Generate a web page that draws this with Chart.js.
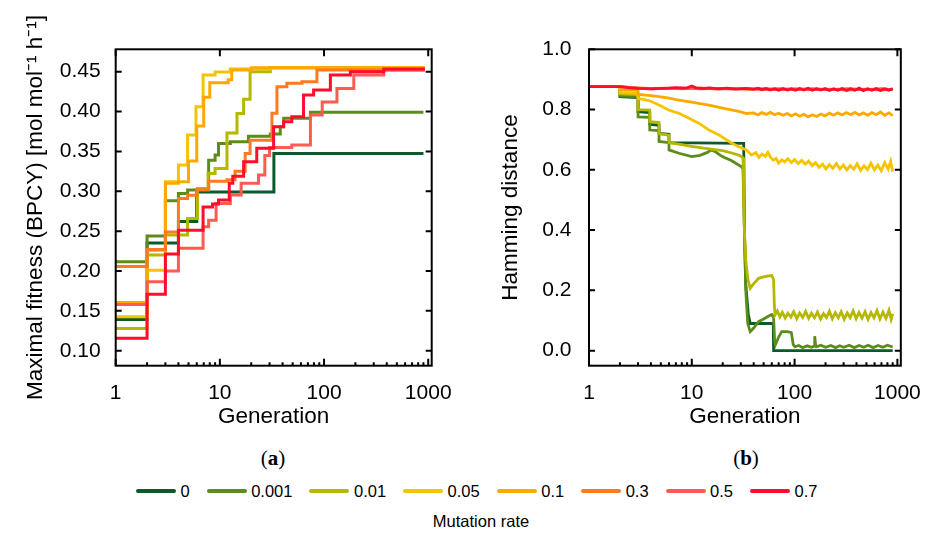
<!DOCTYPE html>
<html lang="en">
<head>
<meta charset="UTF-8">
<title>Fitness and Hamming distance</title>
<script src="https://cdn.jsdelivr.net/npm/chart.js"></script>
<style>
  body { margin: 0; background: #fff; }
  #wrap { position: relative; width: 928px; height: 539px; background: #fff; font-family: "Liberation Sans", Arial, sans-serif; }
  canvas { position: absolute; top: 0; }
  .panel { position: absolute; top: 446px; transform: translateX(-50%); font-family: "Liberation Serif", "DejaVu Serif", serif; font-size: 21px; color: #000; }
  #legend { position: absolute; left: 136px; top: 481px; height: 20px; display: flex; align-items: center; font-size: 16.5px; color: #000; }
  #legend .item { display: flex; align-items: center; margin-right: 17px; }
  #legend .swatch { width: 40px; height: 4px; border-radius: 2px; margin-right: 4.5px; }
  #legendTitle { position: absolute; left: 481px; top: 512px; transform: translateX(-50%); font-size: 16.5px; color: #000; }
</style>
</head>
<body>
<div id="wrap">
  <canvas id="fitChart" width="464" height="440" style="left:0"></canvas>
  <canvas id="hamChart" width="464" height="440" style="left:464px"></canvas>
  <div class="panel" style="left:273px">(<b>a</b>)</div>
  <div class="panel" style="left:746px">(<b>b</b>)</div>
  <div id="legend"></div>
  <div id="legendTitle">Mutation rate</div>
</div>

<script>
  // mutation rates (legend) and their colours
  const rates = ['0', '0.001', '0.01', '0.05', '0.1', '0.3', '0.5', '0.7'];
  const colors = ['#0b5a2a', '#5b8c1c', '#b4b800', '#f5c400', '#ffa800', '#fc7b20', '#ff5b52', '#ff0d2d'];

  const xTicks = [1, 10, 100, 1000];
  const fitTicks = [0.10, 0.15, 0.20, 0.25, 0.30, 0.35, 0.40, 0.45];
  const hamTicks = [0.0, 0.2, 0.4, 0.6, 0.8, 1.0];

  // (a) maximal fitness, [generation, value], stepped
  const fit0 = [[1, 0.139], [2, 0.235], [4, 0.262], [6, 0.299], [33, 0.3475], [900, 0.3475]];
  const fit001 = [[1, 0.2116], [2, 0.2438], [3, 0.288], [4, 0.2973], [4.9, 0.3015], [7.8, 0.339], [9, 0.3455], [9.7, 0.36],
    [12.6, 0.362], [18.8, 0.369], [30.5, 0.372], [38, 0.381], [41, 0.3915], [74, 0.399], [900, 0.399]];
  const fit01 = [[1, 0.128], [2, 0.22], [3, 0.245], [4.9, 0.266], [6.1, 0.3036], [7.7, 0.3224], [9, 0.3287], [11.7, 0.373],
    [14.6, 0.3977], [16.9, 0.4153], [19.5, 0.45], [30.5, 0.455], [900, 0.456]];
  const fit05 = [[1, 0.1426], [2, 0.201], [3, 0.312], [4, 0.333], [4.9, 0.3705], [5.9, 0.406], [6.9, 0.446], [9, 0.4495],
    [12.6, 0.4535], [30, 0.455], [900, 0.456]];
  const fit1 = [[1, 0.1606], [2, 0.226], [3, 0.31], [4, 0.312], [5, 0.338], [6, 0.382], [7, 0.418], [8, 0.436], [12, 0.44],
    [13, 0.452], [20, 0.455], [900, 0.457]];
  const fit3 = [[1, 0.2055], [2, 0.227], [3, 0.249], [4, 0.291], [4.9, 0.295], [6, 0.302], [7.8, 0.3125], [11.7, 0.3145],
    [14, 0.325], [17.5, 0.3475], [19.5, 0.364], [31.6, 0.398], [35.3, 0.431], [44, 0.4354], [61.4, 0.4375], [85.4, 0.452], [900, 0.456]];
  const fit5 = [[1, 0.158], [2, 0.1865], [3, 0.2], [4, 0.2285], [6.9, 0.2555], [7.8, 0.2636], [9.2, 0.2848], [12.6, 0.2954],
    [16, 0.31], [23.5, 0.3203], [27, 0.345], [30, 0.355], [49, 0.358], [74, 0.3956], [96, 0.412], [133, 0.429], [193, 0.446],
    [374, 0.452], [900, 0.454]];
  const fit7 = [[1, 0.1156], [2, 0.1708], [3, 0.2213], [4, 0.251], [6.9, 0.2804], [8.5, 0.284], [9.7, 0.289], [12.3, 0.31],
    [13.3, 0.319], [16.9, 0.337], [22.6, 0.354], [32.8, 0.381], [40.9, 0.3873], [49, 0.3935], [63.5, 0.4207], [79.4, 0.427],
    [115, 0.446], [179, 0.45], [374, 0.4535], [900, 0.455]];

  // (b) Hamming distance, [generation, value]
  const ham0 = [[1, 0.876], [2, 0.876], [2, 0.843], [3, 0.840], [3, 0.793], [3.9, 0.790], [3.9, 0.751], [4.8, 0.748], [4.8, 0.721],
    [6, 0.718], [6, 0.690], [32, 0.688], [32.5, 0.40], [33.5, 0.22], [35.5, 0.12], [37, 0.09], [62, 0.09], [62.5, 0.0], [900, 0.0]];
  const ham001 = [[1, 0.876], [2, 0.876], [2, 0.845], [3, 0.843], [3, 0.776], [3.9, 0.774], [3.9, 0.732], [4.8, 0.730], [4.8, 0.694],
    [6, 0.690], [6, 0.666], [7.5, 0.655], [10, 0.644], [12, 0.648], [14, 0.657], [15.5, 0.666], [17, 0.66], [19, 0.648], [21, 0.640],
    [24, 0.632], [27, 0.621], [30, 0.612], [31.5, 0.603], [32.5, 0.40], [33.5, 0.20], [35, 0.09], [37, 0.063], [40, 0.075],
    [44.6, 0.096], [50, 0.105], [56, 0.115], [60, 0.12], [62.5, 0.11], [64, 0.03], [65, 0.019], [70, 0.045], [75, 0.063], [85, 0.063],
    [93, 0.06], [97, 0.02], [100.6, 0.013], [110, 0.017], [120, 0.010], [133, 0.016], [146, 0.011], [155, 0.015], [157, 0.048],
    [160, 0.02], [163, 0.013], [180, 0.018], [200, 0.011], [225, 0.017], [250, 0.010], [275, 0.016], [300, 0.011], [340, 0.018],
    [380, 0.010], [425, 0.017], [470, 0.011], [520, 0.018], [580, 0.010], [650, 0.017], [720, 0.011], [800, 0.018], [900, 0.012]];
  const ham01 = [[1, 0.876], [2, 0.876], [2, 0.852], [3, 0.850], [3, 0.80], [3.9, 0.798], [3.9, 0.76], [4.8, 0.757], [4.8, 0.72],
    [6, 0.715], [6, 0.69], [8, 0.684], [10, 0.678], [13, 0.672], [16, 0.668], [20, 0.664], [25, 0.655], [29, 0.648], [31.5, 0.640],
    [32, 0.5], [32.5, 0.40], [33.5, 0.30], [35, 0.24], [37, 0.207], [40, 0.222], [44.6, 0.240], [50, 0.245], [56, 0.248], [60, 0.249],
    [62.5, 0.236], [63.5, 0.15], [64.5, 0.118], [68, 0.132], [72, 0.112], [76, 0.127], [81, 0.108], [86, 0.124], [92, 0.111],
    [98, 0.129], [105, 0.106], [112, 0.125], [120, 0.110], [128, 0.130], [137, 0.107], [146, 0.124], [156, 0.109], [167, 0.128],
    [179, 0.105], [191, 0.123], [204, 0.110], [218, 0.131], [233, 0.106], [249, 0.126], [266, 0.109], [284, 0.129], [304, 0.104],
    [325, 0.125], [347, 0.110], [371, 0.132], [397, 0.106], [424, 0.127], [453, 0.108], [485, 0.129], [518, 0.104], [554, 0.126],
    [592, 0.109], [633, 0.133], [677, 0.105], [724, 0.128], [774, 0.107], [828, 0.134], [870, 0.104], [900, 0.122]];
  const ham05 = [[1, 0.876], [2, 0.876], [2, 0.856], [3, 0.854], [3, 0.837], [3.9, 0.829], [4.8, 0.815], [6, 0.798], [7.6, 0.787],
    [9.4, 0.771], [11.8, 0.754], [14.7, 0.732], [18.4, 0.716], [23, 0.694], [28.5, 0.677], [34, 0.666], [38, 0.649], [42, 0.657],
    [45, 0.641], [48, 0.652], [52, 0.645], [55, 0.658], [58, 0.643], [62, 0.632], [66, 0.638], [70, 0.622], [75, 0.633], [80, 0.626],
    [86, 0.637], [93, 0.624], [100, 0.634], [108, 0.621], [117, 0.631], [127, 0.619], [137, 0.629], [148, 0.614], [160, 0.624],
    [173, 0.608], [187, 0.619], [202, 0.603], [218, 0.617], [236, 0.605], [255, 0.621], [276, 0.603], [298, 0.616], [322, 0.600],
    [348, 0.614], [376, 0.602], [406, 0.620], [439, 0.598], [474, 0.613], [512, 0.601], [553, 0.622], [597, 0.600], [645, 0.616],
    [697, 0.597], [753, 0.624], [813, 0.602], [860, 0.628], [900, 0.594]];
  const ham1 = [[1, 0.876], [2, 0.876], [2, 0.866], [3, 0.864], [3, 0.850], [4, 0.846], [5, 0.842], [6, 0.838], [7, 0.833], [8, 0.830],
    [10, 0.825], [12, 0.820], [14.7, 0.815], [18, 0.808], [21, 0.803], [25, 0.798], [30, 0.792], [34, 0.787], [40, 0.789], [44, 0.782],
    [48, 0.790], [53, 0.784], [58, 0.791], [64, 0.783], [70, 0.788], [77, 0.781], [85, 0.787], [93, 0.779], [102, 0.786], [112, 0.778],
    [123, 0.784], [135, 0.776], [149, 0.783], [164, 0.777], [180, 0.785], [198, 0.779], [218, 0.788], [240, 0.781], [264, 0.789],
    [290, 0.782], [319, 0.790], [351, 0.783], [386, 0.791], [425, 0.782], [467, 0.789], [514, 0.781], [565, 0.790], [622, 0.783],
    [684, 0.792], [752, 0.781], [828, 0.789], [900, 0.780]];
  const ham3 = [[1, 0.876], [2, 0.876], [3, 0.872], [4, 0.870], [6, 0.871], [8, 0.869], [12, 0.871], [18, 0.868], [25, 0.870],
    [35, 0.867], [50, 0.869], [70, 0.866], [100, 0.869], [150, 0.866], [220, 0.868], [330, 0.865], [500, 0.868], [700, 0.865], [900, 0.867]];
  const ham5 = [[1, 0.876], [2, 0.876], [3, 0.871], [4, 0.869], [6, 0.870], [8, 0.872], [12, 0.869], [18, 0.870], [25, 0.868],
    [35, 0.870], [50, 0.867], [70, 0.869], [100, 0.866], [150, 0.869], [220, 0.866], [330, 0.869], [500, 0.866], [700, 0.869], [900, 0.866]];
  const ham7 = [[1, 0.876], [2, 0.876], [2.5, 0.872], [3, 0.870], [4, 0.869], [5, 0.870], [6, 0.871], [7, 0.873], [8, 0.871],
    [9, 0.872], [10, 0.878], [11, 0.872], [13, 0.870], [15, 0.872], [18, 0.869], [22, 0.871], [27, 0.868], [33, 0.870], [40, 0.867],
    [44, 0.871], [48, 0.866], [53, 0.870], [58, 0.865], [64, 0.869], [70, 0.864], [77, 0.870], [85, 0.865], [93, 0.869], [102, 0.864],
    [112, 0.870], [123, 0.865], [135, 0.871], [149, 0.864], [164, 0.869], [180, 0.865], [198, 0.870], [218, 0.863], [240, 0.869],
    [264, 0.864], [290, 0.870], [319, 0.863], [351, 0.869], [386, 0.864], [425, 0.871], [467, 0.863], [514, 0.869], [565, 0.864],
    [622, 0.870], [684, 0.863], [752, 0.869], [828, 0.864], [900, 0.870]];

  const fitSeries = [fit0, fit001, fit01, fit05, fit1, fit3, fit5, fit7];
  const hamSeries = [ham0, ham001, ham01, ham05, ham1, ham3, ham5, ham7];

  const FONT = '"Liberation Sans", Arial, sans-serif';
  Chart.defaults.font.family = FONT;
  Chart.defaults.color = '#000';

  // frame and inward tick marks
  const frameTicks = {
    id: 'frameTicks',
    afterDraw(chart) {
      const { ctx, chartArea: a, scales: { x, y } } = chart;
      ctx.save();
      ctx.strokeStyle = '#000';
      ctx.lineWidth = 2;
      ctx.beginPath();
      for (let d = 1; d <= 1000; d *= 10) {
        for (let k = 1; k <= 9; k++) {
          const v = d * k;
          if (v > x.max) break;
          const px = x.getPixelForValue(v);
          const len = k === 1 ? 7 : 3.5;
          ctx.moveTo(px, a.bottom); ctx.lineTo(px, a.bottom - len);
          if (k === 1) { ctx.moveTo(px, a.top); ctx.lineTo(px, a.top + len); }
        }
      }
      y.ticks.forEach(t => {
        const py = y.getPixelForValue(t.value);
        ctx.moveTo(a.left, py); ctx.lineTo(a.left + 6, py);
        ctx.moveTo(a.right, py); ctx.lineTo(a.right - 6, py);
      });
      ctx.stroke();
      ctx.strokeRect(a.left, a.top, a.right - a.left, a.bottom - a.top);
      ctx.restore();
    }
  };

  function makeChart(id, series, yMin, yMax, yTicks, yDigits, yTitle, yWidth, rightPad, yLabelPad, yTitlePad, lineWidth, stepped) {
    const datasets = series.map((d, i) => ({
      label: rates[i],
      data: d.map(p => ({ x: p[0], y: p[1] })),
      borderColor: colors[i],
      backgroundColor: colors[i],
      borderWidth: lineWidth,
      pointRadius: 0,
      stepped: stepped,
      order: series.length - i
    }));

    return new Chart(document.getElementById(id), {
      type: 'scatter',
      data: { datasets: datasets },
      options: {
        responsive: false,
        animation: false,
        showLine: true,
        layout: { padding: { top: 49.3, right: rightPad, left: 0, bottom: 0 } },
        plugins: { legend: { display: false }, tooltip: { enabled: false } },
        scales: {
          x: {
            type: 'logarithmic',
            min: 1,
            max: 1080,
            grid: { display: false },
            border: { display: false },
            afterBuildTicks: s => { s.ticks = xTicks.map(v => ({ value: v })); },
            afterFit: s => { s.height = 74.3; },
            ticks: { font: { size: 21 }, padding: 7, maxRotation: 0, autoSkip: false, callback: v => String(v) },
            title: { display: true, text: 'Generation', font: { size: 22.5 }, padding: { top: 0, bottom: 9.5 } }
          },
          y: {
            min: yMin,
            max: yMax,
            grid: { display: false },
            border: { display: false },
            afterBuildTicks: s => { s.ticks = yTicks.map(v => ({ value: v })); },
            afterFit: s => { s.width = yWidth; },
            ticks: { font: { size: 21 }, padding: yLabelPad, callback: v => Number(v).toFixed(yDigits) },
            title: { display: true, text: yTitle, font: { size: 22.5 }, padding: { top: yTitlePad, bottom: 0 } }
          }
        }
      },
      plugins: [frameTicks]
    });
  }

  makeChart('fitChart', fitSeries, 0.0812, 0.4781, fitTicks, 2,
    'Maximal fitness (BPCY) [mol mol\u207B\u00B9 h\u207B\u00B9]', 115.7, 32.3, 7, 22.5, 3, 'before');
  makeChart('hamChart', hamSeries, -0.05, 1.0, hamTicks, 1,
    'Hamming distance', 125, 23.7, 9.5, 33.5, 2.8, false);

  // shared legend
  const legend = document.getElementById('legend');
  rates.forEach((r, i) => {
    const item = document.createElement('div');
    item.className = 'item';
    const sw = document.createElement('span');
    sw.className = 'swatch';
    sw.style.background = colors[i];
    const lab = document.createElement('span');
    lab.textContent = r;
    item.appendChild(sw);
    item.appendChild(lab);
    legend.appendChild(item);
  });
</script>
</body>
</html>
